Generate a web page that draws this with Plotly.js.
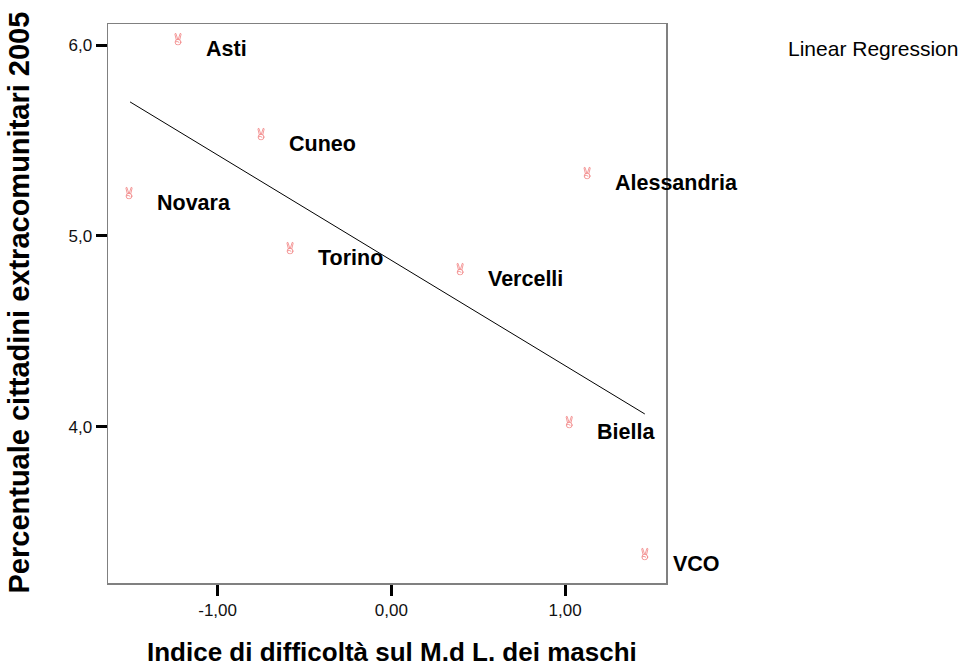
<!DOCTYPE html>
<html>
<head>
<meta charset="utf-8">
<script src="https://cdn.plot.ly/plotly-3.0.1.min.js"></script>
<style>html,body{margin:0;padding:0;background:#fff;}#chart{width:963px;height:667px;}</style>
</head>
<body>
<div id="chart"></div>
<script>
// Data
const provinces = ['Asti', 'Cuneo', 'Novara', 'Torino', 'Vercelli', 'Alessandria', 'Biella', 'VCO'];
const difficultyIndex = [-1.228, -0.750, -1.510, -0.583, 0.396, 1.127, 1.024, 1.459];
const foreignPct = [6.031, 5.534, 5.225, 4.937, 4.827, 5.330, 4.026, 3.335];
// Linear regression line endpoints
const fitX = [-1.504, 1.459];
const fitY = [5.702, 4.068];
// Tick labels
const xTickVals = [-1, 0, 1];
const xTickText = ['-1,00', '0,00', '1,00'];
const yTickVals = [4, 5, 6];
const yTickText = ['4,0', '5,0', '6,0'];

const FONT = 'Liberation Sans, Arial, Helvetica, sans-serif';

// Small "victory hand" marker glyph drawn as an SVG image
const markerSvg = '<svg xmlns="http://www.w3.org/2000/svg" width="18" height="26" viewBox="0 0 9 13">' +
  '<g fill="none" stroke="#f07878" stroke-width="0.75" stroke-linejoin="round" stroke-linecap="round">' +
  '<path d="M2.7,7 L1.4,1.6 Q1.5,0.6 2.4,0.9 L4.1,6.4"/>' +
  '<path d="M4.9,6.4 L6.6,0.9 Q7.5,0.6 7.6,1.6 L6.3,7"/>' +
  '<ellipse cx="4.5" cy="9.6" rx="2.9" ry="2.8"/>' +
  '<path d="M2.1,9.2 Q3.6,8.2 5.4,9.6"/>' +
  '</g></svg>';
const markerUri = 'data:image/svg+xml;charset=utf-8,' + encodeURIComponent(markerSvg);

const traces = [
  {
    type: 'scatter', mode: 'lines', x: fitX, y: fitY,
    line: {color: '#000', width: 1}, showlegend: false, hoverinfo: 'skip'
  },
  {
    type: 'scatter', mode: 'markers', x: difficultyIndex, y: foreignPct,
    marker: {size: 1, color: 'rgba(0,0,0,0)'},
    text: provinces, showlegend: false, cliponaxis: false
  }
];

const images = difficultyIndex.map((xv, i) => ({
  source: markerUri, xref: 'x', yref: 'y', x: xv, y: foreignPct[i],
  sizex: 0.052, sizey: 0.068, xanchor: 'center', yanchor: 'middle',
  sizing: 'contain', layer: 'above'
}));

const annotations = provinces.map((p, i) => ({
  x: difficultyIndex[i], y: foreignPct[i], xref: 'x', yref: 'y',
  text: p, showarrow: false, xanchor: 'left', yanchor: 'middle',
  xshift: 26, yshift: -10,
  font: {family: FONT, size: 21.5, color: '#000', weight: 'bold'}
}));

annotations.push({
  xref: 'paper', yref: 'paper', x: 0, y: 0.5, xshift: -90, yshift: 1,
  text: 'Percentuale cittadini extracomunitari 2005', textangle: -90,
  showarrow: false, xanchor: 'center', yanchor: 'middle',
  font: {family: FONT, size: 29, color: '#000', weight: 'bold'}
});
annotations.push({
  xref: 'paper', yref: 'paper', x: 0.5, y: 0, xshift: 5, yshift: -69,
  text: 'Indice di difficoltà sul M.d L. dei maschi',
  showarrow: false, xanchor: 'center', yanchor: 'middle',
  font: {family: FONT, size: 26, color: '#000', weight: 'bold'}
});
annotations.push({
  xref: 'paper', yref: 'paper', x: 1, y: 1, xshift: 120, yshift: -24,
  text: 'Linear Regression', showarrow: false, xanchor: 'left', yanchor: 'middle',
  font: {family: FONT, size: 21, color: '#000'}
});

const layout = {
  width: 963, height: 667,
  margin: {l: 108, r: 297, t: 24, b: 84, pad: 0},
  paper_bgcolor: '#fff', plot_bgcolor: '#fff',
  showlegend: false,
  xaxis: {
    range: [-1.631, 1.581], showgrid: false, zeroline: false,
    showline: true, linecolor: '#808080', linewidth: 1.5, mirror: true,
    ticks: 'outside', ticklen: 11, tickwidth: 3, tickcolor: '#000',
    tickvals: xTickVals, ticktext: xTickText,
    tickfont: {family: FONT, size: 17, color: '#111'}
  },
  yaxis: {
    range: [3.183, 6.110], showgrid: false, zeroline: false,
    showline: true, linecolor: '#808080', linewidth: 1.5, mirror: true,
    ticks: 'outside', ticklen: 11, tickwidth: 3, tickcolor: '#000',
    tickvals: yTickVals, ticktext: yTickText,
    tickfont: {family: FONT, size: 17, color: '#111'}
  },
  images: images,
  annotations: annotations
};

Plotly.newPlot('chart', traces, layout, {staticPlot: true, displayModeBar: false});
</script>
</body>
</html>
